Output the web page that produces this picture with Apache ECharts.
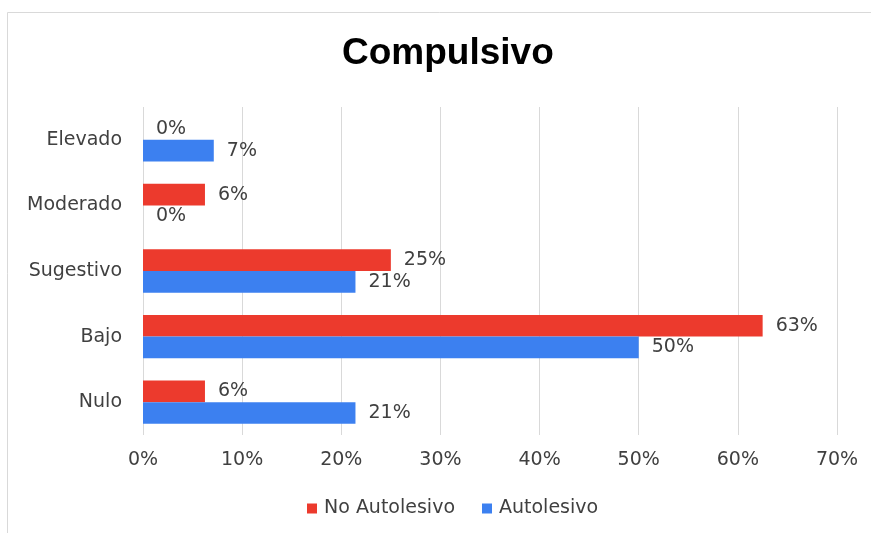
<!DOCTYPE html>
<html>
<head>
<meta charset="utf-8">
<script src="https://cdn.jsdelivr.net/npm/echarts@6/dist/echarts.min.js"></script>
<style>
html,body{margin:0;padding:0;background:#fff;}
#main{width:871px;height:533px;}
</style>
</head>
<body>
<div id="main"></div>
<script>
var categories = ['Elevado', 'Moderado', 'Sugestivo', 'Bajo', 'Nulo'];
var noAutolesivo = [0, 6.25, 25, 62.5, 6.25];
var autolesivo = [7.14, 0, 21.43, 50, 21.43];
var xTicks = [0, 10, 20, 30, 40, 50, 60, 70];

var chart = echarts.init(document.getElementById('main'));
var fontFam = '"DejaVu Sans", sans-serif';
var titleFam = '"Liberation Sans", Arial, sans-serif';
var labelCfg = {
  show: true, position: 'right', distance: 13,
  color: '#404040', fontSize: 19, fontFamily: fontFam,
  formatter: function (p) { return Math.round(p.value) + '%'; }
};
chart.setOption({
  backgroundColor: '#fff',
  animation: false,
  graphic: [{
    type: 'rect', left: 7, top: 12, silent: true, z: -1,
    shape: { width: 870, height: 530 },
    style: { fill: '#fff', stroke: '#d9d9d9', lineWidth: 1 }
  }],
  title: {
    text: 'Compulsivo', left: 337, top: 30,
    textStyle: { fontSize: 37, fontWeight: 'bold', color: '#000', fontFamily: titleFam }
  },
  legend: {
    top: 494, left: 302, itemWidth: 10, itemHeight: 10, itemGap: 27,
    icon: 'rect',
    textStyle: { fontSize: 19, color: '#404040', fontFamily: fontFam, padding: [0, 0, 0, 2] },
    data: ['No Autolesivo', 'Autolesivo']
  },
  grid: { left: 143, right: 34, top: 107, bottom: 98, containLabel: false },
  xAxis: {
    type: 'value', min: 0, max: 70, interval: 10,
    axisLine: { show: false }, axisTick: { show: false },
    splitLine: { lineStyle: { color: '#d9d9d9' } },
    axisLabel: { margin: 16, color: '#404040', fontSize: 19, fontFamily: fontFam,
      formatter: function (v) { return xTicks.indexOf(v) >= 0 ? v + '%' : ''; } }
  },
  yAxis: {
    type: 'category', data: categories, inverse: true,
    axisLine: { show: false }, axisTick: { show: false },
    axisLabel: { margin: 21, color: '#404040', fontSize: 19, fontFamily: fontFam }
  },
  series: [
    { name: 'No Autolesivo', type: 'bar', data: noAutolesivo, barGap: '0%', barCategoryGap: '34%',
      itemStyle: { color: '#EC3A2D' }, label: labelCfg },
    { name: 'Autolesivo', type: 'bar', data: autolesivo, barGap: '0%', barCategoryGap: '34%',
      itemStyle: { color: '#3C80F0' }, label: labelCfg }
  ]
});
</script>
</body>
</html>
